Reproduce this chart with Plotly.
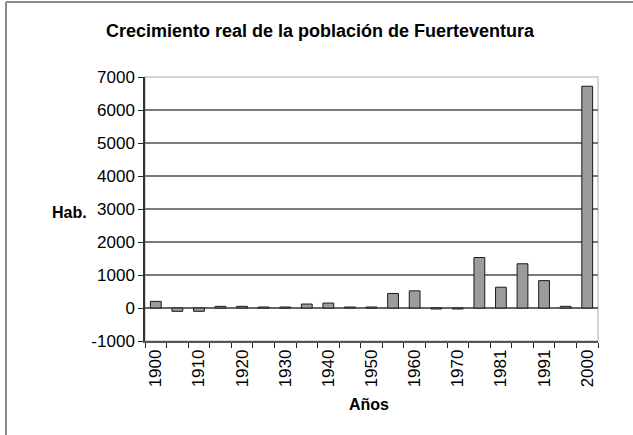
import plotly.graph_objects as go

years = ["1900", "1905", "1910", "1915", "1920", "1925", "1930", "1935", "1940", "1945",
         "1950", "1955", "1960", "1965", "1970", "1975", "1981", "1986", "1991", "1996", "2000"]
growth = [200, -100, -100, 50, 50, 30, 30, 120, 150, 30,
          30, 440, 520, -30, -30, 1530, 630, 1340, 830, 50, 6720]
tick_labels = [y if i % 2 == 0 else "" for i, y in enumerate(years)]
y_ticks = [-1000, 0, 1000, 2000, 3000, 4000, 5000, 6000, 7000]
y_tick_labels = ["-1000", "0", "1000", "2000", "3000", "4000", "5000", "6000", "7000"]

W, H = 633, 435
L, R, T, B = 145, 35, 77, 94
pw, ph = W - L - R, H - T - B

def px(x):
    return (x - L) / pw

def py(y):
    return (H - B - y) / ph

fig = go.Figure(go.Bar(
    x=years, y=growth,
    marker=dict(color="#9c9c9c", line=dict(color="#1a1a1a", width=1)),
    width=0.5,
))

font_family = "Liberation Sans, Arial, sans-serif"

fig.update_layout(
    width=W, height=H,
    margin=dict(l=L, r=R, t=T, b=B),
    paper_bgcolor="white", plot_bgcolor="white",
    showlegend=False,
    font=dict(family=font_family, size=17, color="black"),
    title=dict(text="<b>Crecimiento real de la población de Fuerteventura</b>",
               x=320 / W, xanchor="center", y=1 - 31 / H, yanchor="middle",
               font=dict(size=18)),
)
fig.update_xaxes(
    type="category", tickmode="array", tickvals=years, ticktext=tick_labels,
    tickangle=-90, tickson="boundaries", ticks="outside", ticklen=5,
    tickcolor="#222", showline=True, linecolor="#555", linewidth=1.5,
    showgrid=False, tickfont=dict(size=17),
)
fig.update_yaxes(
    range=[-1000, 7000], tickmode="array", tickvals=y_ticks, ticktext=y_tick_labels,
    ticks="outside", ticklen=5, tickcolor="#222",
    showline=True, linecolor="#333", linewidth=1.5,
    showgrid=True, gridcolor="#7a7a7a", gridwidth=1.5,
    zeroline=True, zerolinecolor="#666", zerolinewidth=1.5,
    tickfont=dict(size=17),
)

fig.add_shape(type="rect", xref="paper", yref="paper", x0=0, x1=1, y0=0, y1=1,
              line=dict(color="#c8c8c8", width=1.5), layer="below")
# outer chart border (only top and left edges fall inside the picture)
fig.add_shape(type="line", xref="paper", yref="paper",
              x0=px(6), x1=px(6), y0=py(2), y1=py(440),
              line=dict(color="#8a8a8a", width=2))
fig.add_shape(type="line", xref="paper", yref="paper",
              x0=px(6), x1=px(640), y0=py(2), y1=py(2),
              line=dict(color="#8a8a8a", width=2))

fig.add_annotation(text="<b>Hab.</b>", xref="paper", yref="paper",
                   x=px(69), y=py(212), xanchor="center", yanchor="middle",
                   showarrow=False, font=dict(size=16))
fig.add_annotation(text="<b>Años</b>", xref="paper", yref="paper",
                   x=px(369), y=py(404), xanchor="center", yanchor="middle",
                   showarrow=False, font=dict(size=16))

fig.write_html("out.html", config={"displayModeBar": False},
               post_script="document.body.style.margin='0';")
